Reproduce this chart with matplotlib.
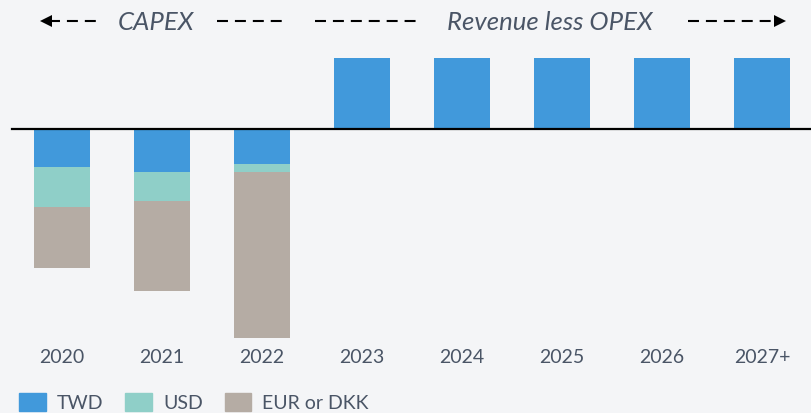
import matplotlib
matplotlib.use("Agg")
import matplotlib.pyplot as plt
from matplotlib.patches import Patch

# Data (arbitrary units)
years = ["2020", "2021", "2022", "2023", "2024", "2025", "2026", "2027+"]
capex_twd = [-38, -43, -35]
capex_usd = [-40, -29, -8]
capex_eur = [-61, -90, -166]
revenue_twd = [71, 71, 71, 71, 71]

c_twd = "#4199db"
c_usd = "#8fcfc8"
c_eur = "#b5aca4"
bg = "#f4f5f7"
txt = "#4a5566"

plt.rcParams["font.family"] = ["Lato", "DejaVu Sans"]
plt.rcParams["lines.scale_dashes"] = False

fig = plt.figure(figsize=(8.12, 4.14), dpi=100, facecolor=bg)

ax = fig.add_axes([0, 69 / 414, 1, 300 / 414])
ax.set_facecolor("none")

x_cap = list(range(len(capex_twd)))
x_rev = list(range(len(capex_twd), len(years)))
bot_usd = capex_twd
bot_eur = [a + b for a, b in zip(capex_twd, capex_usd)]

w = 0.56
ax.bar(x_cap, capex_twd, width=w, color=c_twd)
ax.bar(x_cap, capex_usd, bottom=bot_usd, width=w, color=c_usd)
ax.bar(x_cap, capex_eur, bottom=bot_eur, width=w, color=c_eur)
ax.bar(x_rev, revenue_twd, width=w, color=c_twd)

ax.axhline(0, xmin=12 / 812, xmax=1, color="black", lw=1.6, zorder=3)

ax.set_xlim(-0.62, 7.5)
ax.set_ylim(-215, 85)
ax.set_xticks(range(len(years)), years)
ax.tick_params(axis="x", length=0, pad=3, labelsize=14, labelcolor=txt)
ax.set_yticks([])
for s in ax.spines.values():
    s.set_visible(False)

# header with dashed arrows, drawn in pixel coords on an overlay axes
deco = fig.add_axes([0, 0, 1, 1])
deco.set_xlim(0, 812)
deco.set_ylim(414, 0)
deco.axis("off")

hy = 22
dash = dict(color="black", lw=1.5, dashes=(7.9, 5.0), solid_capstyle="butt")
deco.plot([49, 97], [hy, hy], **dash)
deco.plot([217, 284], [hy, hy], **dash)
deco.plot([315, 419], [hy, hy], **dash)
deco.plot([688, 773], [hy, hy], **dash)
deco.plot([46], [hy], marker="<", color="black", ms=8, mew=0)
deco.plot([780], [hy], marker=">", color="black", ms=8, mew=0)

deco.text(156, hy, "CAPEX", fontsize=18.5, style="italic", color=txt,
          ha="center", va="center")
deco.text(550, hy, "Revenue less OPEX", fontsize=18.5, style="italic", color=txt,
          ha="center", va="center")

handles = [Patch(color=c_twd, label="TWD"),
           Patch(color=c_usd, label="USD"),
           Patch(color=c_eur, label="EUR or DKK")]
fig.legend(handles=handles, loc="center left", bbox_to_anchor=(19 / 812, 11 / 414),
           ncol=3, frameon=False, fontsize=14, labelcolor=txt,
           handlelength=1.38, handleheight=1.03, handletextpad=0.56,
           columnspacing=1.13, borderpad=0, borderaxespad=0)

fig.savefig("out.png", dpi=100, facecolor=bg)
